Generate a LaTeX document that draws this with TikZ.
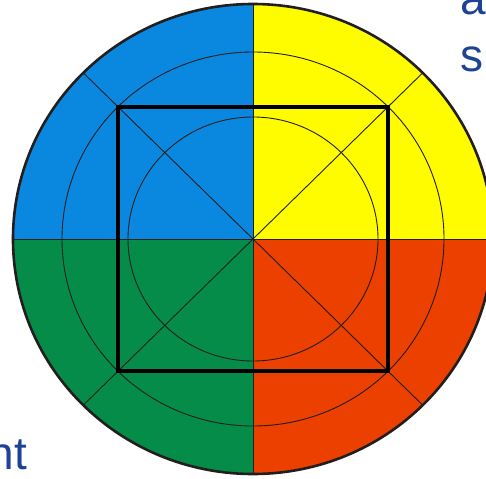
\documentclass[tikz,border=0pt]{standalone}
\usepackage{fontspec}
\setmainfont{Liberation Sans}
\usepackage{xcolor}
\definecolor{wheelBlue}{RGB}{10,136,224}
\definecolor{wheelYellow}{RGB}{255,252,0}
\definecolor{wheelGreen}{RGB}{4,140,72}
\definecolor{wheelRed}{RGB}{236,64,0}
\definecolor{wheelLine}{RGB}{34,30,30}
\definecolor{textNavy}{RGB}{30,66,150}
\tikzset{
  thinline/.style={draw=wheelLine,line width=0.9pt},
  cuttext/.style={inner sep=0pt,text=textNavy,font=\fontsize{46}{55}\selectfont}
}
\begin{document}
\begin{tikzpicture}[x=1pt,y=-1pt]
\clip (0,0) rectangle (486,478);
\coordinate (c) at (253,239);
% quadrants
\begin{scope}
  \clip (c) ellipse [x radius=240pt,y radius=235pt];
  \fill[wheelBlue] (c) rectangle (0,0);
  \fill[wheelYellow] (c) rectangle (500,0);
  \fill[wheelGreen] (c) rectangle (0,480);
  \fill[wheelRed] (c) rectangle (500,480);
\end{scope}
% rim points
\path (c) ++(90:240pt and 235pt) coordinate (top)
      (c) ++(270:240pt and 235pt) coordinate (bot)
      (c) ++(180:240pt and 235pt) coordinate (lft)
      (c) ++(0:240pt and 235pt) coordinate (rgt)
      (c) ++(45:240pt and 235pt) coordinate (ne)
      (c) ++(135:240pt and 235pt) coordinate (nw)
      (c) ++(225:240pt and 235pt) coordinate (sw)
      (c) ++(315:240pt and 235pt) coordinate (se);
\path (c) ++(135:191pt and 187pt) coordinate (sqa)
      (c) ++(315:191pt and 187pt) coordinate (sqb);
% spokes and rings
\draw[thinline] (top) -- (bot);
\draw[thinline] (lft) -- (rgt);
\draw[thinline] (nw) -- (se);
\draw[thinline] (ne) -- (sw);
\draw[thinline] (c) ellipse [x radius=191pt,y radius=187pt];
\draw[thinline] (c) ellipse [x radius=125pt,y radius=122pt];
% square and rim
\draw[black,line width=3.6pt] (sqa) rectangle (sqb);
\draw[wheelLine,line width=2.6pt] (c) ellipse [x radius=240pt,y radius=235pt];
% cut-off text
\node[cuttext,anchor=base west] (txta) at (460,15) {a};
\node[cuttext,anchor=base west] (txts) at (460,72) {s};
\node[cuttext,anchor=base east] (txtnt) at (27,469) {nt};
\end{tikzpicture}
\end{document}
